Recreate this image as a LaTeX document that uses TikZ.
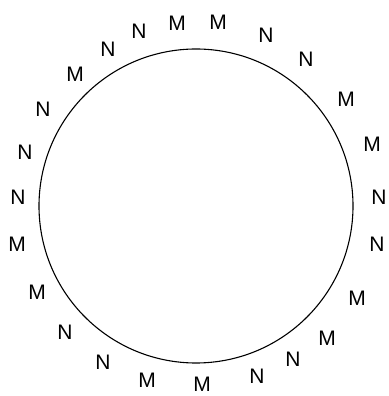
\documentclass[tikz,border=0pt]{standalone}
\usepackage{fontspec}
\setmainfont{Liberation Sans}
\begin{document}
\begin{tikzpicture}[x=1pt,y=1pt,
  lbl/.style={font=\fontsize{21}{21}\selectfont, inner sep=0pt, anchor=center},
  ring/.style={draw=black, line width=1.1pt}]
\useasboundingbox (0,0) rectangle (388,396);
\node[ring, circle, minimum size=314pt, inner sep=0pt] (c) at (196,190) {};
\node[lbl] (l1) at (177,373) {M};
\node[lbl] (l2) at (218,374) {M};
\node[lbl] (l3) at (266,361) {N};
\node[lbl] (l4) at (306,337) {N};
\node[lbl] (l5) at (346,297) {M};
\node[lbl] (l6) at (372,252) {M};
\node[lbl] (l7) at (379,199) {N};
\node[lbl] (l8) at (377,152) {N};
\node[lbl] (l9) at (357,98) {M};
\node[lbl] (l10) at (327,58) {M};
\node[lbl] (l11) at (293,37) {N};
\node[lbl] (l12) at (257,20) {N};
\node[lbl] (l13) at (202,12) {M};
\node[lbl] (l14) at (147,16) {M};
\node[lbl] (l15) at (103,34) {N};
\node[lbl] (l16) at (65,64) {N};
\node[lbl] (l17) at (37,104) {M};
\node[lbl] (l18) at (17,152) {M};
\node[lbl] (l19) at (18,199) {N};
\node[lbl] (l20) at (25,244) {N};
\node[lbl] (l21) at (43,287) {N};
\node[lbl] (l22) at (75,322) {M};
\node[lbl] (l23) at (108,347) {N};
\node[lbl] (l24) at (139,365) {N};
\end{tikzpicture}
\end{document}
